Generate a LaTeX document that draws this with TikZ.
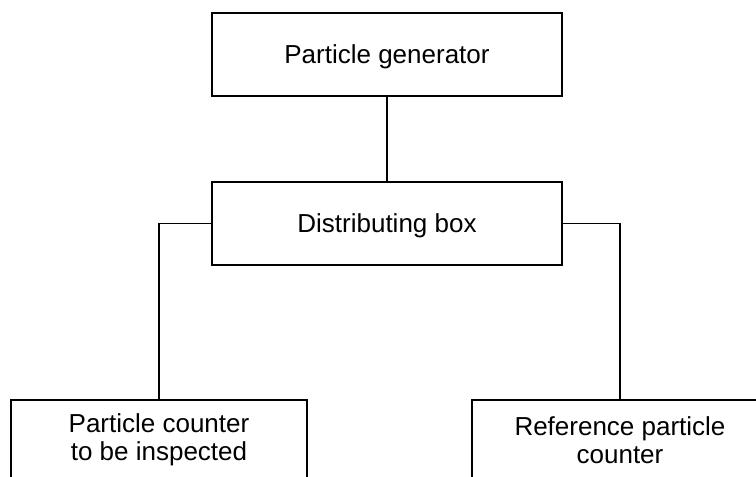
\documentclass[tikz,border=0pt]{standalone}
\usepackage{fontspec}
\setmainfont{Liberation Sans}
\usepackage{tikz}
\usetikzlibrary{positioning}

\begin{document}
\begin{tikzpicture}[x=1pt,y=-1pt,line width=1.2pt,
	every node/.style={draw,rectangle,inner sep=0pt,align=center,
		font=\fontsize{26}{27.5}\selectfont},
	unit/.style={minimum width=350pt,minimum height=83pt,text height=18.6pt,text depth=0pt},
	counter/.style={minimum width=296pt,minimum height=80pt}]
	%page of the picture, bottom boxes run past it
	\clip (0,0) rectangle (756,477);
	%top and middle boxes placed by hand
	\node[unit] (gen) at (387,54.5){Particle generator};
	\node[unit] (dist) at (387,223.5){Distributing box};
	%% the two counters at the bottom
	\node[counter] (cnt) at (159,440){Particle counter\\to be inspected};
	\node[counter] (ref) at (620,440){Reference particle\\counter};
	\draw (gen)--(dist);
	\draw (dist.west)-|(cnt.north);
	\draw (dist.east)-|(ref.north);
\end{tikzpicture}
\end{document}
